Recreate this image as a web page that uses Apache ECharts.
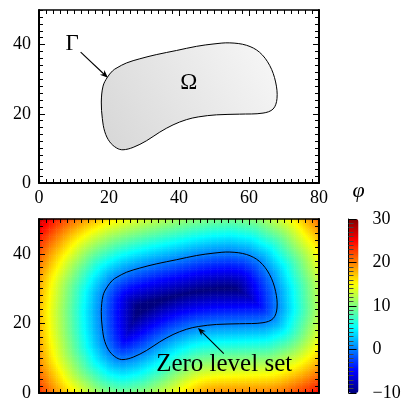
<!DOCTYPE html>
<html><head><meta charset="utf-8">
<script src="https://cdn.jsdelivr.net/npm/echarts@6/dist/echarts.min.js"></script>
<style>html,body{margin:0;padding:0;background:#fff}#c{width:414px;height:403px}</style>
</head><body><div id="c"></div>
<script>
// Boundary Γ of the domain Ω (data units), traced clockwise
const gammaX = [19.5,21.0,22.3,25.0,28.8,33.5,39.3,45.0,50.0,54.5,59.3,63.0,65.9,67.6,68.0,66.9,64.0,57.3,50.7,45.5,42.1,38.3,34.5,30.7,26.9,24.0,22.2,20.2,18.8,18.1,17.8,18.3];
const gammaY = [30.5,32.4,33.3,34.7,35.9,37.1,38.3,39.5,40.2,40.5,39.8,37.8,34.0,29.2,24.4,21.4,20.2,19.9,19.7,19.1,18.3,16.8,14.7,12.2,10.3, 9.6,10.1,11.9,14.8,18.6,23.4,28.0];
// Tick labels
const xTicks = [0, 20, 40, 60, 80];
const yTicks = [0, 20, 40];
const yMax = 50;
const phiTicks = [-10, 0, 10, 20, 30];
// Annotations
const topLabels = [{text:'Γ', x:9.5, y:40.2}, {text:'Ω', x:42.8, y:28.9}];
const topArrow = [[11.9, 37.8, 19.7, 30.4]];
const bottomLabels = [{text:'Zero level set', x:52.9, y:8.3}];
const bottomArrow = [[52.8, 11.3, 45.4, 18.7]];
// Colour map (jet)
const jet = ['#00007F','#0000FF','#007FFF','#00FFFF','#7FFF7F','#FFFF00','#FF7F00','#FF0000','#7F0000'];

// φ shown in the lower panel = signed distance to Γ (negative inside Ω), sampled on a grid
const cell = 0.5;
const nx = Math.round((xTicks[xTicks.length-1]-xTicks[0])/cell), ny = Math.round(yMax/cell);
function inside(px, py){
  let c = false;
  for (let i=0, j=gammaX.length-1; i<gammaX.length; j=i++){
    const xi=gammaX[i], yi=gammaY[i], xj=gammaX[j], yj=gammaY[j];
    if (((yi>py)!==(yj>py)) && (px < (xj-xi)*(py-yi)/(yj-yi)+xi)) c = !c;
  }
  return c;
}
function dist(px, py){
  let best = Infinity;
  for (let i=0; i<gammaX.length; i++){
    const j=(i+1)%gammaX.length;
    const ax=gammaX[i], ay=gammaY[i], bx=gammaX[j], by=gammaY[j];
    const dx=bx-ax, dy=by-ay;
    let t=((px-ax)*dx+(py-ay)*dy)/(dx*dx+dy*dy);
    t=Math.max(0,Math.min(1,t));
    const ex=ax+t*dx-px, ey=ay+t*dy-py;
    best=Math.min(best, Math.hypot(ex,ey));
  }
  return best;
}
const xCats=[], yCats=[], heat=[];
for (let i=0;i<nx;i++) xCats.push(String(i));
for (let j=0;j<ny;j++) yCats.push(String(j));
for (let i=0;i<nx;i++){
  for (let j=0;j<ny;j++){
    const x=(i+0.5)*cell, y=(j+0.5)*cell;
    let v = dist(x,y)*(inside(x,y)?-1:1);
    v = Math.max(phiTicks[0], Math.min(phiTicks[phiTicks.length-1], v));
    heat.push([i,j,v]);
  }
}

const FONT = 'Liberation Serif';
const chart = echarts.init(document.getElementById('c'), null, {renderer:'canvas'});
const pts = gammaX.map((x,i)=>[x,gammaY[i]]);

function polyItem(filled){
  return function(params, api){
    if (params.dataIndex !== 0) return null;
    const points = gammaX.map((x,i)=>api.coord([x,gammaY[i]]));
    return {type:'polygon', shape:{points, smooth:0.35},
      style:{fill: filled ? {type:'linear',x:0,y:1,x2:1,y2:0,colorStops:[{offset:0,color:'#d6d6d6'},{offset:1,color:'#f8f8f8'}]} : 'none',
             stroke:'#000', lineWidth:1}};
  };
}
function arrowItem(params, api){
  const p1=api.coord([api.value(0),api.value(1)]), p2=api.coord([api.value(2),api.value(3)]);
  const dx=p2[0]-p1[0], dy=p2[1]-p1[1], L=Math.hypot(dx,dy), ux=dx/L, uy=dy/L, nx_=-uy, ny_=ux;
  const hl=8, hw=3.2;
  const back=[p2[0]-ux*hl, p2[1]-uy*hl];
  const inner=[p2[0]-ux*hl*0.7, p2[1]-uy*hl*0.7];
  return {type:'group', children:[
    {type:'line', shape:{x1:p1[0],y1:p1[1],x2:inner[0],y2:inner[1]}, style:{stroke:'#000',lineWidth:1.1}},
    {type:'polygon', shape:{points:[p2,[back[0]+nx_*hw,back[1]+ny_*hw],inner,[back[0]-nx_*hw,back[1]-ny_*hw]]}, style:{fill:'#000'}}
  ]};
}
function textItem(list, size){
  return function(params, api){
    const a=list[params.dataIndex];
    const p=api.coord([a.x,a.y]);
    return {type:'text', x:p[0], y:p[1], style:{text:a.text, fontFamily:FONT, fontSize:size, fill:'#000', align:'center', verticalAlign:'middle'}};
  };
}

function xAx(grid, pos, labels, lw){
  return {type:'value', gridIndex:grid, position:pos, min:xTicks[0], max:xTicks[xTicks.length-1], interval:xTicks[1]-xTicks[0], z:10,
    axisLine:{show:true, onZero:false, lineStyle:{color:'#000', width:lw}},
    axisTick:{show:true, inside:true, length:6, lineStyle:{color:'#000', width:1}},
    minorTick:{show:true, splitNumber:10, length:4, lineStyle:{color:'#000', width:1}},
    axisLabel:{show:labels, margin:6, color:'#000', fontFamily:FONT, fontSize:18},
    splitLine:{show:false}, minorSplitLine:{show:false}};
}
function yAx(grid, pos, labels, minor, lw){
  return {type:'value', gridIndex:grid, position:pos, min:yTicks[0], max:yMax, interval: minor ? 2 : yTicks[1]-yTicks[0], z:10,
    axisLine:{show:!minor, onZero:false, lineStyle:{color:'#000', width:lw}},
    axisTick:{show:true, inside:true, length: minor?4:6, lineStyle:{color:'#000', width:1}},
    axisLabel:{show:labels, showMaxLabel:false, margin:8, color:'#000', fontFamily:FONT, fontSize:18},
    splitLine:{show:false}};
}

const option = {
  animation:false,
  backgroundColor:'#fff',
  grid:[
    {left:39, top:10, width:280, height:173},
    {left:39, top:219, width:280, height:174},
    {left:39, top:219, width:280, height:174},
    {left:348.5, top:219, width:10, height:174}
  ],
  xAxis:[
    xAx(0,'bottom',true,2), xAx(0,'top',false,1.5),
    xAx(1,'bottom',false,2), xAx(1,'top',false,1.5),
    {type:'category', gridIndex:2, data:xCats, show:false},
    {type:'value', gridIndex:3, min:0, max:1, show:false}
  ],
  yAxis:[
    yAx(0,'left',true,false,2), yAx(0,'left',false,true,2), yAx(0,'right',false,false,2), yAx(0,'right',false,true,2),
    yAx(1,'left',true,false,2), yAx(1,'left',false,true,2), yAx(1,'right',false,false,2), yAx(1,'right',false,true,2),
    {type:'category', gridIndex:2, data:yCats, show:false},
    {type:'value', gridIndex:3, position:'right', min:phiTicks[0], max:phiTicks[phiTicks.length-1], interval:phiTicks[1]-phiTicks[0], z:10,
      name:'φ', nameLocation:'end', nameGap:17, nameTextStyle:{fontFamily:FONT, fontStyle:'italic', fontSize:22, color:'#000', align:'center', padding:[0,0,0,20]},
      axisLine:{show:true, lineStyle:{color:'#000', width:1}},
      axisTick:{show:true, inside:false, length:8, lineStyle:{color:'#000', width:1}},
      minorTick:{show:true, splitNumber:10, length:5, lineStyle:{color:'#444', width:1}},
      axisLabel:{show:true, margin:14, color:'#000', fontFamily:FONT, fontSize:18,
        formatter:v=> v<0 ? '\u2212'+Math.abs(v) : String(v)},
      splitLine:{show:false}}
  ],
  visualMap:{type:'continuous', seriesIndex:3, dimension:2, min:phiTicks[0], max:phiTicks[phiTicks.length-1],
    orient:'vertical', left:348.5, top:219, itemWidth:10, itemHeight:174, padding:0, calculable:false,
    inRange:{color:jet}, textStyle:{color:'transparent'}},
  series:[
    {type:'custom', xAxisIndex:0, yAxisIndex:0, data:pts, renderItem:polyItem(true), z:3, silent:true},
    {type:'custom', xAxisIndex:0, yAxisIndex:0, data:topLabels.map(a=>[a.x,a.y]), renderItem:textItem(topLabels,23), z:4, silent:true},
    {type:'custom', xAxisIndex:0, yAxisIndex:0, data:topArrow, renderItem:arrowItem, z:4, silent:true},
    {type:'heatmap', xAxisIndex:4, yAxisIndex:8, data:heat, progressive:0, z:1, silent:true, itemStyle:{borderWidth:0}},
    {type:'custom', xAxisIndex:2, yAxisIndex:4, data:pts, renderItem:polyItem(false), z:3, silent:true},
    {type:'custom', xAxisIndex:2, yAxisIndex:4, data:bottomArrow, renderItem:arrowItem, z:4, silent:true},
    {type:'custom', xAxisIndex:2, yAxisIndex:4, data:bottomLabels.map(a=>[a.x,a.y]), renderItem:textItem(bottomLabels,25), z:4, silent:true}
  ]
};
chart.setOption(option);
</script></body></html>
